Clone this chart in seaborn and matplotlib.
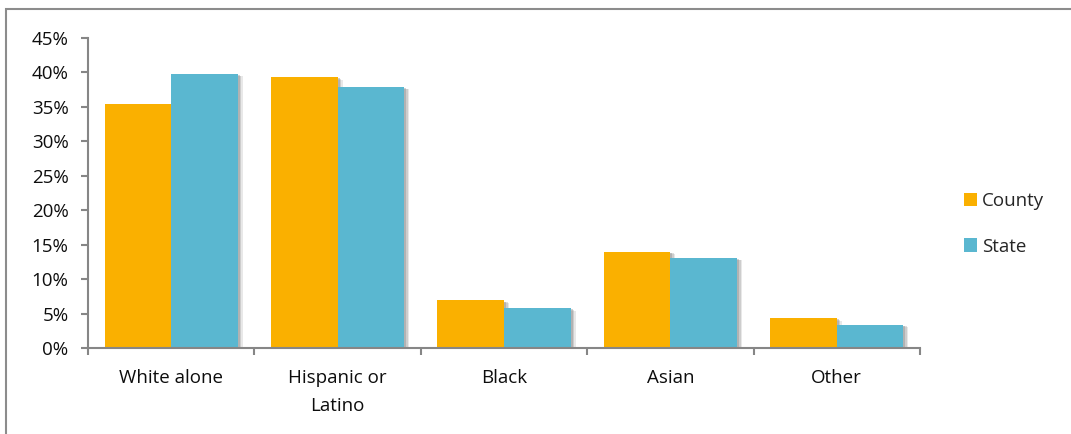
import matplotlib
matplotlib.use("Agg")
import matplotlib.pyplot as plt
import matplotlib.patheffects as pe
from matplotlib.patches import Rectangle
from matplotlib.ticker import FuncFormatter, MultipleLocator, FixedLocator
import seaborn as sns
import pandas as pd

# Population share by race / ethnicity (percent)
categories = ["White alone", "Hispanic or\nLatino", "Black", "Asian", "Other"]
county = [35.4, 39.3, 6.9, 14.0, 4.3]
state = [39.8, 37.9, 5.8, 13.1, 3.4]
series = ["County", "State"]
colors = ["#FAB000", "#5AB7D0"]

df = pd.DataFrame({
    "group": categories * 2,
    "series": [series[0]] * len(county) + [series[1]] * len(state),
    "share": county + state,
})

sns.set_theme(style="white")
plt.rcParams["font.family"] = ["Open Sans", "DejaVu Sans"]

W, H = 1071, 434
fig = plt.figure(figsize=(W / 100, H / 100), dpi=100)
ax = fig.add_axes([88 / W, 1 - 348 / H, (920 - 88) / W, (348 - 38) / H])

sns.barplot(data=df, x="group", y="share", hue="series", palette=colors,
            width=0.8, saturation=1, linewidth=0, edgecolor="none", ax=ax, legend=True)

# soft, slightly blurred drop shadow behind each bar
for p in ax.patches:
    p.set_path_effects([
        pe.SimplePatchShadow(offset=(3.6, -1.8), shadow_rgbFace="#808080", alpha=0.18),
        pe.SimplePatchShadow(offset=(2.6, -1.3), shadow_rgbFace="#808080", alpha=0.25),
        pe.SimplePatchShadow(offset=(1.5, -0.8), shadow_rgbFace="#808080", alpha=0.35),
        pe.Normal(),
    ])

ax.set_xlim(-0.5, len(categories) - 0.5)
ax.set_ylim(0, 45)
ax.yaxis.set_major_locator(MultipleLocator(5))
ax.yaxis.set_major_formatter(FuncFormatter(lambda v, _: f"{v:.0f}%"))
ax.set_xlabel("")
ax.set_ylabel("")

# category boundary ticks on the x axis
ax.xaxis.set_minor_locator(FixedLocator([i - 0.5 for i in range(len(categories) + 1)]))
ax.tick_params(axis="x", which="major", length=0, pad=15, labelsize=13.5, labelcolor="#0d0d0d")
ax.tick_params(axis="x", which="minor", bottom=True, length=5, width=1.5, color="#868686", direction="out")
ax.tick_params(axis="y", left=True, length=5, width=1.5, color="#868686", direction="out",
               pad=9, labelsize=13.5, labelcolor="#0d0d0d")
for lbl in ax.get_xticklabels():
    lbl.set_linespacing(1.75)

for side in ("top", "right"):
    ax.spines[side].set_visible(False)
for side in ("left", "bottom"):
    ax.spines[side].set_color("#868686")
    ax.spines[side].set_linewidth(1.5)

sns.move_legend(ax, "center left", bbox_to_anchor=((947 - 88) / 832, (348 - 224) / 310),
                frameon=False, title=None, fontsize=13.5, labelspacing=1.45,
                handlelength=0.7, handleheight=0.7, handletextpad=0.25)

# outer chart frame
fig.add_artist(Rectangle((6 / W, -0.1), 1.2, (1 - 9 / H) + 0.1, transform=fig.transFigure,
                         fill=False, edgecolor="#8c8c8c", linewidth=1.5, clip_on=False))

fig.savefig("out.png", dpi=100)
